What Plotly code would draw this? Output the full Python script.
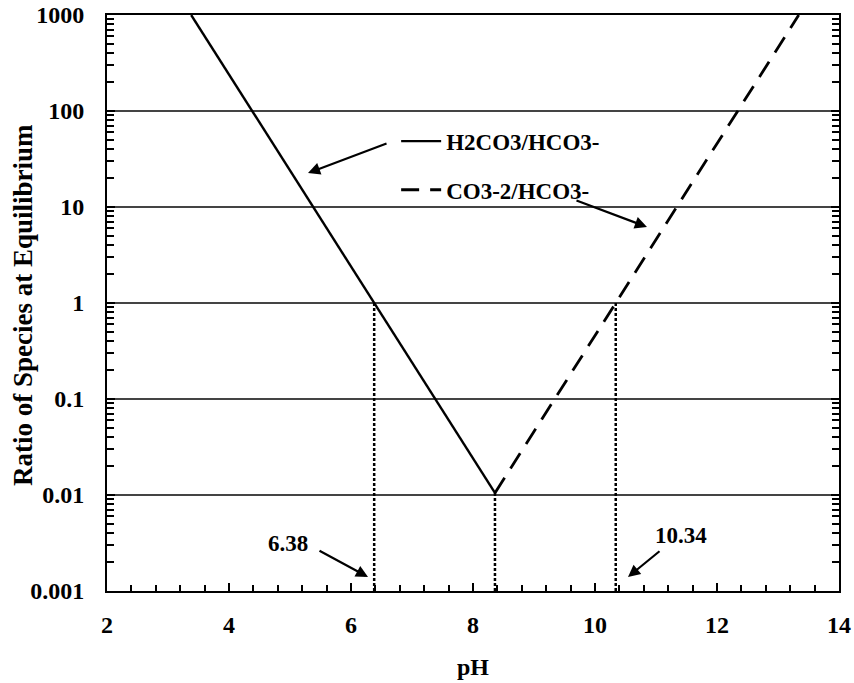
import plotly.graph_objects as go

# Carbonate system: species ratios versus pH
pka1 = 6.38
pka2 = 10.34
ph_cross = 8.36

ph_h2co3 = [3.38, 6.38, 8.36]
ratio_h2co3 = [1000, 1, 0.0105]

ph_co3 = [8.36, 10.34, 13.34]
ratio_co3 = [0.0105, 1, 1000]

# vertical drop lines (pH, top ratio)
drop_ph = [pka1, ph_cross, pka2]
drop_top = [1, 0.0105, 1]
ratio_floor = 0.001

x_tickvals = [2, 4, 6, 8, 10, 12, 14]

FONT = "Liberation Serif"

fig = go.Figure()

for xv, top in zip(drop_ph, drop_top):
    fig.add_trace(go.Scatter(
        x=[xv, xv], y=[ratio_floor, top], mode="lines",
        line=dict(color="black", width=2.5, dash="3px,2px"),
        showlegend=False, hoverinfo="skip"))

fig.add_trace(go.Scatter(
    x=ph_h2co3, y=ratio_h2co3, mode="lines", name="H2CO3/HCO3-",
    line=dict(color="black", width=2.4), legend="legend"))

fig.add_trace(go.Scatter(
    x=ph_co3, y=ratio_co3, mode="lines", name="CO3-2/HCO3-",
    line=dict(color="black", width=2.8, dash="18px,11px"), legend="legend2"))

bold = dict(family=FONT, size=23, color="black", weight="bold")


def arrow(x_head, y_head, x_tail, y_tail):
    return dict(x=x_head, y=y_head, ax=x_tail, ay=y_tail,
                xref="x", yref="y", axref="x", ayref="y",
                text="", showarrow=True, arrowhead=2, arrowsize=1.1,
                arrowwidth=2.2, arrowcolor="black")


annotations = [
    arrow(5.295, 1.354, 6.607, 1.667),
    arrow(10.852, 0.792, 9.672, 1.073),
    arrow(6.279, -2.854, 5.459, -2.573),
    arrow(10.541, -2.854, 11.082, -2.573),
    dict(x=4.967, y=-2.51, xref="x", yref="y", text="6.38",
         showarrow=False, font=bold),
    dict(x=11.41, y=-2.417, xref="x", yref="y", text="10.34",
         showarrow=False, font=bold),
    # y-axis title
    dict(x=-0.1148, y=0.4965, xref="paper", yref="paper",
         text="Ratio of Species at Equilibrium", textangle=-90,
         showarrow=False, xanchor="center", yanchor="middle",
         font=dict(family=FONT, size=27, color="black", weight="bold")),
]

fig.update_layout(
    width=854, height=683,
    margin=dict(l=107, r=15, t=15, b=92, autoexpand=False),
    paper_bgcolor="white", plot_bgcolor="white",
    font=dict(family=FONT, size=23, color="black"),
    annotations=annotations,
    legend=dict(x=0.395, y=0.781, xanchor="left", yanchor="middle",
                bgcolor="rgba(0,0,0,0)", font=bold, itemwidth=40),
    legend2=dict(x=0.395, y=0.6965, xanchor="left", yanchor="middle",
                 bgcolor="rgba(0,0,0,0)", font=bold, itemwidth=40),
)

fig.update_xaxes(
    range=[2, 14], tickmode="array", tickvals=x_tickvals,
    tickfont=dict(family=FONT, size=24, weight="bold"),
    ticks="inside", ticklen=8, tickwidth=1.6, tickcolor="black",
    minor=dict(dtick=0.4, tick0=2, ticks="inside", ticklen=6,
               tickwidth=1.5, tickcolor="black"),
    showline=True, linecolor="black", linewidth=2, mirror=True,
    showgrid=False, zeroline=False, automargin=False,
    ticklabelstandoff=11,
    title=dict(text="pH", font=dict(family=FONT, size=24, weight="bold"),
               standoff=21),
)

fig.update_yaxes(
    type="log", range=[-3, 3], tickmode="linear", tick0=0, dtick=1,
    exponentformat="none",
    tickfont=dict(family=FONT, size=24, weight="bold"),
    ticks="inside", ticklen=8, tickwidth=1.6, tickcolor="black",
    minor=dict(dtick="D1", ticks="inside", ticklen=7, tickwidth=1.5,
               tickcolor="black", showgrid=False),
    showline=True, linecolor="black", linewidth=2, mirror="ticks",
    showgrid=True, gridcolor="#444444", gridwidth=1.8,
    zeroline=False, automargin=False, ticklabelstandoff=16,
)

fig.write_html("out.html")
